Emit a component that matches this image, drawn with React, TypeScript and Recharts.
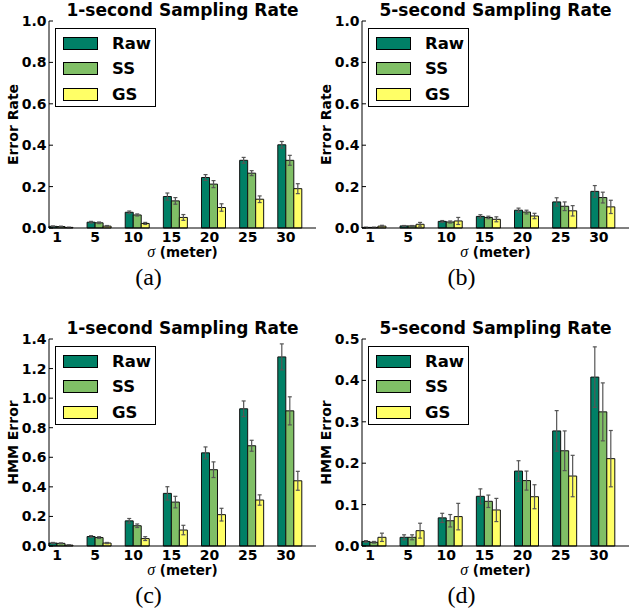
import React from "react";
import { Bar, BarChart, ErrorBar, Legend, XAxis, YAxis } from "recharts";

// sigma values (meter) along the x axis
const sigmas = ["1", "5", "10", "15", "20", "25", "30"];

// (a) error rate, 1-second sampling
const rate1Raw = [0.008, 0.028, 0.076, 0.152, 0.244, 0.327, 0.402];
const rate1RawSd = [0.002, 0.004, 0.006, 0.017, 0.014, 0.014, 0.016];
const rate1SS = [0.007, 0.025, 0.063, 0.131, 0.212, 0.265, 0.327];
const rate1SSSd = [0.002, 0.004, 0.005, 0.016, 0.017, 0.012, 0.024];
const rate1GS = [0.003, 0.009, 0.022, 0.051, 0.099, 0.139, 0.19];
const rate1GSSd = [0.001, 0.003, 0.005, 0.014, 0.018, 0.016, 0.024];

// (b) error rate, 5-second sampling
const rate5Raw = [0.003, 0.01, 0.032, 0.056, 0.086, 0.126, 0.177];
const rate5RawSd = [0.001, 0.002, 0.004, 0.008, 0.01, 0.02, 0.028];
const rate5SS = [0.003, 0.01, 0.029, 0.051, 0.077, 0.105, 0.147];
const rate5SSSd = [0.001, 0.002, 0.005, 0.006, 0.009, 0.021, 0.026];
const rate5GS = [0.009, 0.018, 0.034, 0.042, 0.058, 0.083, 0.102];
const rate5GSSd = [0.004, 0.009, 0.017, 0.012, 0.013, 0.025, 0.032];

// (c) HMM error, 1-second sampling
const hmm1Raw = [0.02, 0.064, 0.17, 0.356, 0.63, 0.928, 1.279];
const hmm1RawSd = [0.004, 0.006, 0.016, 0.045, 0.04, 0.053, 0.088];
const hmm1SS = [0.018, 0.057, 0.137, 0.297, 0.516, 0.678, 0.914];
const hmm1SSSd = [0.003, 0.006, 0.012, 0.039, 0.053, 0.037, 0.095];
const hmm1GS = [0.006, 0.02, 0.05, 0.108, 0.212, 0.311, 0.441];
const hmm1GSSd = [0.002, 0.004, 0.013, 0.032, 0.043, 0.035, 0.064];

// (d) HMM error, 5-second sampling
const hmm5Raw = [0.011, 0.021, 0.068, 0.12, 0.181, 0.278, 0.408];
const hmm5RawSd = [0.002, 0.006, 0.011, 0.018, 0.025, 0.049, 0.073];
const hmm5SS = [0.009, 0.021, 0.061, 0.108, 0.158, 0.23, 0.324];
const hmm5SSSd = [0.002, 0.006, 0.015, 0.015, 0.023, 0.048, 0.07];
const hmm5GS = [0.021, 0.037, 0.071, 0.087, 0.119, 0.169, 0.211];
const hmm5GSSd = [0.01, 0.018, 0.032, 0.028, 0.029, 0.05, 0.068];

const rateTicks = [0, 0.2, 0.4, 0.6, 0.8, 1.0];
const hmm1Ticks = [0, 0.2, 0.4, 0.6, 0.8, 1.0, 1.2, 1.4];
const hmm5Ticks = [0, 0.1, 0.2, 0.3, 0.4, 0.5];

const SERIES = [
  { key: "raw", name: "Raw", color: "#008066" },
  { key: "ss", name: "SS", color: "#80bf66" },
  { key: "gs", name: "GS", color: "#ffff66" },
];

const SANS = "'DejaVu Sans', sans-serif";
const SERIF = "'Liberation Serif', 'DejaVu Serif', serif";
const X_DOMAIN = [-0.315, 6.685];
const X_TICKS = sigmas.map((_, i) => i);

function makeRows(raw: number[], rawSd: number[], ss: number[], ssSd: number[], gs: number[], gsSd: number[]) {
  return sigmas.map((s, i) => ({
    x: i,
    sigma: s,
    raw: raw[i],
    rawErr: rawSd[i],
    ss: ss[i],
    ssErr: ssSd[i],
    gs: gs[i],
    gsErr: gsSd[i],
  }));
}

function LegendBox() {
  return (
    <div
      style={{
        width: 101,
        height: 79,
        border: "1px solid #000",
        boxSizing: "border-box",
        background: "#fff",
        position: "relative",
        fontFamily: SANS,
        fontWeight: "bold",
        fontSize: 16.5,
        color: "#000",
      }}
    >
      {SERIES.map((s, i) => (
        <div
          key={s.key}
          style={{
            position: "absolute",
            left: 7,
            top: 6 + i * 25.3,
            height: 17,
            display: "flex",
            alignItems: "center",
            lineHeight: "17px",
          }}
        >
          <span
            style={{
              display: "inline-block",
              width: 35,
              height: 13,
              boxSizing: "border-box",
              border: "1px solid #000",
              background: s.color,
            }}
          />
          <span style={{ marginLeft: 14 }}>{s.name}</span>
        </div>
      ))}
    </div>
  );
}

interface PanelProps {
  left: number;
  top: number;
  title: string;
  yLabel: string;
  caption: string;
  ticks: number[];
  rows: ReturnType<typeof makeRows>;
}

const W = 318;
const H = 300;
const PLOT_L = 49;
const PLOT_T = 21;
const PLOT_B = 228;

function Panel({ left, top, title, yLabel, caption, ticks, rows }: PanelProps) {
  const yMax = ticks[ticks.length - 1];
  const tickFont = { fontFamily: SANS, fontWeight: "bold", fontSize: 14, fill: "#000" };
  const plotCx = (PLOT_L + W - 2) / 2;
  return (
    <div style={{ position: "absolute", left, top, width: W, height: H }}>
      <BarChart
        width={W}
        height={H}
        data={rows}
        barGap={0}
        margin={{ top: PLOT_T, right: 2, bottom: H - PLOT_B - 20, left: 0 }}
      >
        <XAxis
          xAxisId="b"
          dataKey="x"
          type="number"
          domain={X_DOMAIN}
          ticks={X_TICKS}
          interval={0}
          tickFormatter={(v: number) => sigmas[v]}
          tick={{ ...tickFont, dx: -4 }}
          tickLine={false}
          tickSize={0}
          tickMargin={4}
          height={20}
          axisLine={{ stroke: "#000" }}
        />
        <XAxis
          xAxisId="t"
          dataKey="x"
          type="number"
          orientation="top"
          domain={X_DOMAIN}
          ticks={X_TICKS}
          tick={false}
          tickLine={false}
          height={0}
          axisLine={{ stroke: "#000" }}
        />
        <YAxis
          yAxisId="l"
          type="number"
          domain={[0, yMax]}
          ticks={ticks}
          interval={0}
          width={PLOT_L}
          tickFormatter={(v: number) => v.toFixed(1)}
          tick={tickFont}
          tickSize={-4}
          tickMargin={6.5}
          tickLine={{ stroke: "#000" }}
          axisLine={{ stroke: "#000" }}
        />
        <YAxis
          yAxisId="r"
          orientation="right"
          type="number"
          domain={[0, yMax]}
          ticks={ticks}
          interval={0}
          width={0}
          tick={false}
          tickSize={-4}
          tickLine={{ stroke: "#000" }}
          axisLine={{ stroke: "#000" }}
        />
        <Legend
          layout="horizontal"
          align="center"
          verticalAlign="middle"
          wrapperStyle={{ left: 55, top: 28, width: 101, height: 79 }}
          content={() => <LegendBox />}
        />
        {SERIES.map((s) => (
          <Bar
            key={s.key}
            xAxisId="b"
            yAxisId="l"
            dataKey={s.key}
            name={s.name}
            fill={s.color}
            stroke="#111"
            strokeWidth={1}
            barSize={8}
            isAnimationActive={false}
          >
            <ErrorBar
              dataKey={`${s.key}Err`}
              direction="y"
              width={2}
              stroke="#555"
              strokeWidth={1.2}
              isAnimationActive={false}
            />
          </Bar>
        ))}
      </BarChart>
      <svg
        width={W}
        height={H}
        style={{ position: "absolute", left: 0, top: 0, pointerEvents: "none" }}
      >
        <text
          x={plotCx}
          y={16}
          textAnchor="middle"
          fontFamily={SANS}
          fontWeight="bold"
          fontSize={17}
        >
          {title}
        </text>
        <text
          transform={`translate(13, ${(PLOT_T + PLOT_B) / 2}) rotate(-90)`}
          textAnchor="middle"
          dominantBaseline="central"
          fontFamily={SANS}
          fontWeight="bold"
          fontSize={14}
        >
          {yLabel}
        </text>
        <text
          x={plotCx}
          y={257}
          textAnchor="middle"
          fontFamily={SANS}
          fontWeight="bold"
          fontSize={13.5}
        >
          <tspan fontFamily={SERIF} fontStyle="italic" fontWeight="normal" fontSize={16}>
            σ
          </tspan>
          <tspan> (meter)</tspan>
        </text>
        <text
          x={148.5}
          y={277}
          textAnchor="middle"
          dominantBaseline="central"
          fontFamily={SERIF}
          fontSize={24}
        >
          {caption}
        </text>
      </svg>
    </div>
  );
}

export default function App() {
  return (
    <div
      style={{
        position: "absolute",
        left: 0,
        top: 0,
        width: 630,
        height: 615,
        overflow: "hidden",
        background: "#fff",
      }}
    >
      <Panel
        left={0}
        top={0}
        title="1-second Sampling Rate"
        yLabel="Error Rate"
        caption="(a)"
        ticks={rateTicks}
        rows={makeRows(rate1Raw, rate1RawSd, rate1SS, rate1SSSd, rate1GS, rate1GSSd)}
      />
      <Panel
        left={313}
        top={0}
        title="5-second Sampling Rate"
        yLabel="Error Rate"
        caption="(b)"
        ticks={rateTicks}
        rows={makeRows(rate5Raw, rate5RawSd, rate5SS, rate5SSSd, rate5GS, rate5GSSd)}
      />
      <Panel
        left={0}
        top={318}
        title="1-second Sampling Rate"
        yLabel="HMM Error"
        caption="(c)"
        ticks={hmm1Ticks}
        rows={makeRows(hmm1Raw, hmm1RawSd, hmm1SS, hmm1SSSd, hmm1GS, hmm1GSSd)}
      />
      <Panel
        left={313}
        top={318}
        title="5-second Sampling Rate"
        yLabel="HMM Error"
        caption="(d)"
        ticks={hmm5Ticks}
        rows={makeRows(hmm5Raw, hmm5RawSd, hmm5SS, hmm5SSSd, hmm5GS, hmm5GSSd)}
      />
    </div>
  );
}
